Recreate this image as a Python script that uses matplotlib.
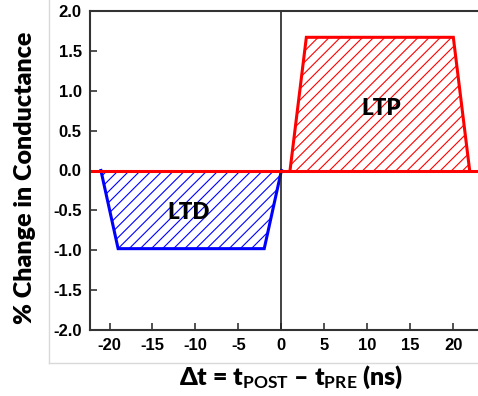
import matplotlib.pyplot as plt
from matplotlib.lines import Line2D

# data
ltp_x = [1.0, 2.9, 20.0, 21.9]
ltp_y = [0.0, 1.67, 1.67, 0.0]
ltd_x = [-21.0, -19.0, -2.0, 0.0]
ltd_y = [0.0, -0.98, -0.98, 0.0]
xticks = [-20, -15, -10, -5, 0, 5, 10, 15, 20]
yticks = [-2.0, -1.5, -1.0, -0.5, 0.0, 0.5, 1.0, 1.5, 2.0]

plt.rcParams['mathtext.fontset'] = 'custom'
plt.rcParams['mathtext.rm'] = 'Lato:bold'
plt.rcParams['mathtext.it'] = 'Lato:bold'
plt.rcParams['mathtext.bf'] = 'Lato:bold'
plt.rcParams['hatch.linewidth'] = 0.8

W, H = 478, 396
fig = plt.figure(figsize=(W / 100, H / 100), dpi=100)
# axes runs past the right edge of the picture, like the reference
ax = fig.add_axes([90 / W, (H - 330) / H, (492 - 90) / W, (330 - 11) / H])
ax.set_xlim(-22.27, 24.5)
ax.set_ylim(-2.0, 2.0)

# hatched regions
ax.fill(ltp_x, ltp_y, facecolor='none', edgecolor='red', linewidth=0, hatch='///')
ax.fill(ltd_x, ltd_y, facecolor='none', edgecolor='blue', linewidth=0, hatch='///')
ax.plot(ltp_x, ltp_y, color='red', linewidth=2.2, solid_joinstyle='miter')
ax.plot(ltd_x, ltd_y, color='blue', linewidth=2.2, solid_joinstyle='miter')

ax.axvline(0, color='#222222', linewidth=1.2)
ax.axhline(0, color='red', linewidth=2.2)

ax.text(11.6, 0.78, 'LTP', fontsize=16, fontweight='heavy', family='Lato',
        ha='center', va='center')
ax.text(-10.85, -0.53, 'LTD', fontsize=16, fontweight='heavy', family='Lato',
        ha='center', va='center')

ax.set_xticks(xticks)
ax.set_yticks(yticks)
ax.set_xticklabels([str(t) for t in xticks])
ax.set_yticklabels(['%.1f' % t for t in yticks])
for lab in ax.get_xticklabels() + ax.get_yticklabels():
    lab.set_family('Liberation Sans')
    lab.set_fontweight('bold')
    lab.set_fontsize(12)
ax.tick_params(direction='in', length=5, width=1.2, color='#333333')
ax.tick_params(axis='y', pad=6)
ax.tick_params(axis='x', pad=6)
ax.spines['right'].set_visible(False)
for s in ['left', 'bottom', 'top']:
    ax.spines[s].set_linewidth(1.5)
    ax.spines[s].set_color('#333333')

fig.text(25 / W, 1 - 178 / H, '% Change in Conductance', fontsize=18,
         fontweight='heavy', family='Lato', rotation=90, ha='center', va='center')
fig.text(291 / W, 1 - 377 / H, 'Δt = t$_{POST}$ – t$_{PRE}$ (ns)', fontsize=18,
         fontweight='heavy', family=['Lato', 'DejaVu Sans'], ha='center', va='center')

# light grey frame from the original picture
fig.add_artist(Line2D([49 / W, 49 / W], [1, (H - 363) / H], color='#d9d9d9', linewidth=1))
fig.add_artist(Line2D([49 / W, 1], [(H - 363) / H, (H - 363) / H], color='#d9d9d9', linewidth=1))

fig.savefig('out.png', dpi=100)
